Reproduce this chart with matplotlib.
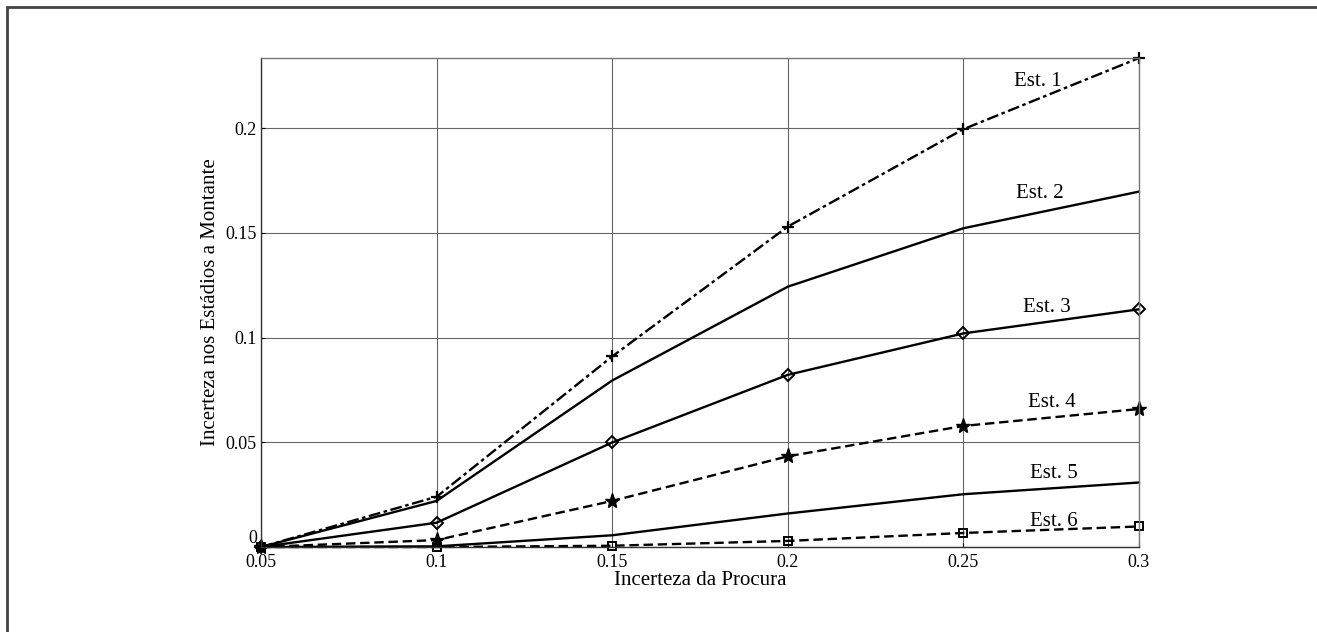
import matplotlib
matplotlib.use("Agg")
import matplotlib.pyplot as plt
from matplotlib.patches import Rectangle

plt.rcParams['font.family'] = ['Liberation Serif', 'DejaVu Serif']

# data
procura = [0.05, 0.1, 0.15, 0.2, 0.25, 0.3]
est1 = [0.0, 0.024, 0.091, 0.153, 0.1995, 0.2335]
est2 = [0.0, 0.022, 0.0795, 0.1243, 0.1522, 0.1697]
est3 = [0.0, 0.0116, 0.0499, 0.0822, 0.102, 0.1135]
est4 = [0.0, 0.0033, 0.022, 0.0433, 0.0578, 0.0659]
est5 = [0.0, 0.0003, 0.0056, 0.016, 0.0252, 0.0308]
est6 = [0.0, 0.0, 0.0006, 0.0029, 0.0067, 0.0098]

labels = ["Est. 1", "Est. 2", "Est. 3", "Est. 4", "Est. 5", "Est. 6"]
label_x = [0.2711, 0.2717, 0.2737, 0.2751, 0.2757, 0.2757]
label_y = [0.2224, 0.1686, 0.1143, 0.0690, 0.0352, 0.0123]

xticks = [0.05, 0.1, 0.15, 0.2, 0.25, 0.3]
xtick_labels = ["0.05", "0.1", "0.15", "0.2", "0.25", "0.3"]
yticks = [0, 0.05, 0.1, 0.15, 0.2]
ytick_labels = ["0", "0.05", "0.1", "0.15", "0.2"]

fig = plt.figure(figsize=(13.17, 6.32), dpi=100)
ax = fig.add_axes([0.1982, 0.1345, 0.6666, 0.7737])

# outer frame (only left and top edges are inside the picture)
fig.patches.append(Rectangle((7 / 1317, -0.1), 1.2, 1 - 7 / 632 + 0.1,
                             transform=fig.transFigure, fill=False,
                             edgecolor='#444444', linewidth=2))

lw = 1.7
ax.plot(procura, est1, color='black', lw=lw, dashes=(5, 1.5, 1.5, 1.5),
        marker='+', markersize=9, markeredgewidth=1.6, clip_on=False)
ax.plot(procura, est2, color='black', lw=lw, linestyle='-', clip_on=False)
ax.plot(procura, est3, color='black', lw=lw, linestyle='-',
        marker='D', markersize=6, markerfacecolor='none', markeredgewidth=1.4,
        clip_on=False)
ax.plot(procura, est4, color='black', lw=lw, dashes=(4, 2),
        marker='*', markersize=11, markerfacecolor='black', clip_on=False)
ax.plot(procura, est5, color='black', lw=lw, linestyle='-', clip_on=False)
ax.plot(procura, est6, color='black', lw=lw, dashes=(4, 2),
        marker='s', markersize=6, markerfacecolor='none', markeredgewidth=1.4,
        clip_on=False)

for t, x, y in zip(labels, label_x, label_y):
    ax.text(x, y, t, fontsize=15, ha='center', va='center')

ax.set_xlim(0.05, 0.3)
ax.set_ylim(0, 0.2335)
ax.set_xticks(xticks)
ax.set_xticklabels(xtick_labels)
ax.set_yticks(yticks)
ax.set_yticklabels(ytick_labels)
ax.tick_params(direction='in', length=3, labelsize=13)
ax.tick_params(axis='x', pad=5)
ax.tick_params(axis='y', pad=3)
# lift the "0" label a touch so it sits above the "0.05" below it
ax.get_yticklabels()[0].set_verticalalignment('bottom')
ax.grid(True, color='#666666', linewidth=0.8)
for s in ax.spines.values():
    s.set_color('#777777')
    s.set_linewidth(1.0)
ax.spines['left'].set_color('#333333')
ax.spines['bottom'].set_color('#333333')

ax.set_xlabel("Incerteza da Procura", fontsize=15, labelpad=0)
ax.set_ylabel("Incerteza nos Estádios a Montante", fontsize=15, labelpad=4)

fig.savefig("out.png", dpi=100, facecolor='white')
